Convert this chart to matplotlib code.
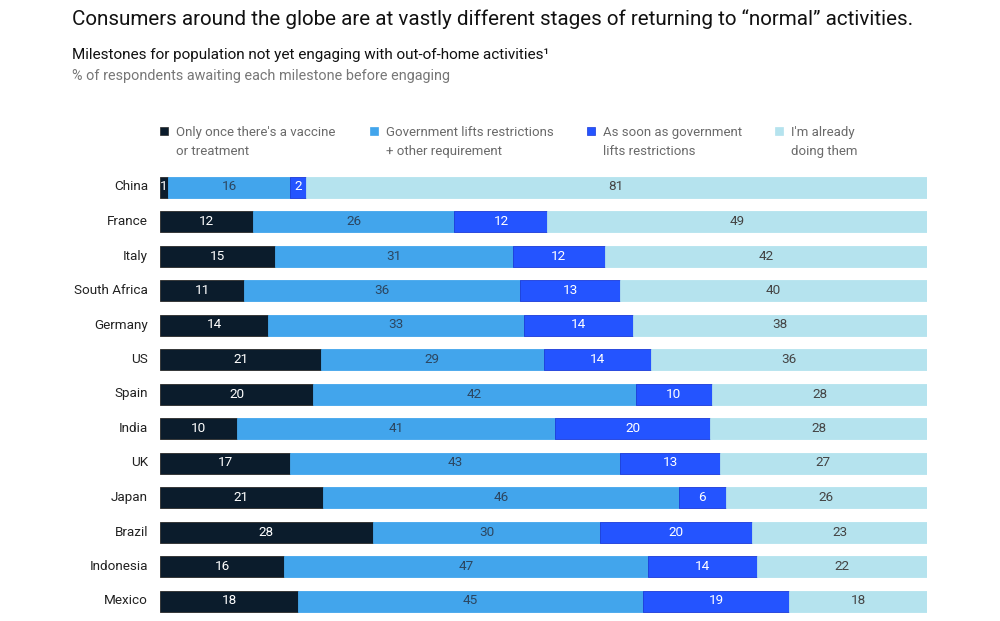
import matplotlib
matplotlib.use("Agg")
import matplotlib.pyplot as plt
from matplotlib.patches import Rectangle

plt.rcParams['font.family'] = ['Roboto', 'DejaVu Sans']

countries = ["China", "France", "Italy", "South Africa", "Germany", "US", "Spain",
             "India", "UK", "Japan", "Brazil", "Indonesia", "Mexico"]
vaccine = [1, 12, 15, 11, 14, 21, 20, 10, 17, 21, 28, 16, 18]
gov_plus = [16, 26, 31, 36, 33, 29, 42, 41, 43, 46, 30, 47, 45]
gov_asap = [2, 12, 12, 13, 14, 14, 10, 20, 13, 6, 20, 14, 19]
already = [81, 49, 42, 40, 38, 36, 28, 28, 27, 26, 23, 22, 18]

series = [vaccine, gov_plus, gov_asap, already]
legend_labels = ["Only once there's a vaccine\nor treatment",
                 "Government lifts restrictions\n+ other requirement",
                 "As soon as government\nlifts restrictions",
                 "I'm already\ndoing them"]
colors = ["#0b1c2c", "#42a5ec", "#2454ff", "#b5e3ee"]
text_colors = ["white", "#2c4660", "white", "#444444"]
edge_colors = ["#2a2a2a", "#42a5ec", "#1a3ad8", "#b5e3ee"]

W, H = 1000, 621
fig = plt.figure(figsize=(W / 100, H / 100), dpi=100)

pitch = (601 - 187) / 12
top_px = 187 - pitch / 2
bot_px = 601 + pitch / 2
ax = fig.add_axes([160 / W, 1 - bot_px / H, (927 - 160) / W, (bot_px - top_px) / H])
ax.set_xlim(0, 1)
ax.set_ylim(len(countries) - 0.5, -0.5)
ax.axis('off')

bar_h = 21 / pitch
for i, c in enumerate(countries):
    vals = [s[i] for s in series]
    tot = sum(vals)
    left = 0.0
    for k, v in enumerate(vals):
        w = v / tot
        ax.barh(i, w, left=left, height=bar_h, color=colors[k],
                edgecolor=edge_colors[k], linewidth=0.6)
        ax.text(left + w / 2, i, str(v), ha='center', va='center',
                fontsize=9.7, color=text_colors[k])
        left += w
    fig.text(148 / W, 1 - (187 + i * pitch) / H, c, ha='right', va='center',
             fontsize=9.7, color='#222222')

fig.text(72 / W, 1 - 19 / H,
         "Consumers around the globe are at vastly different stages of returning to \u201cnormal\u201d activities.",
         fontsize=14.9, color='#111111', ha='left', va='center')
fig.text(72 / W, 1 - 55 / H,
         "Milestones for population not yet engaging with out-of-home activities\u00b9",
         fontsize=11, color='#111111', ha='left', va='center')
fig.text(72 / W, 1 - 76 / H,
         "% of respondents awaiting each milestone before engaging",
         fontsize=10.4, color='#777777', ha='left', va='center')

leg_x = [160, 370, 587, 775]
for k, lab in enumerate(legend_labels):
    x0 = leg_x[k]
    fig.patches.append(Rectangle((x0 / W, 1 - 135 / H), 8 / W, 8 / H,
                                 transform=fig.transFigure, facecolor=colors[k],
                                 edgecolor=edge_colors[k], linewidth=0.5))
    fig.text((x0 + 16) / W, 1 - 126 / H, lab, ha='left', va='top',
             fontsize=9.5, color='#6a6a6a', linespacing=1.6)

fig.savefig("out.png", dpi=100, facecolor='white')
